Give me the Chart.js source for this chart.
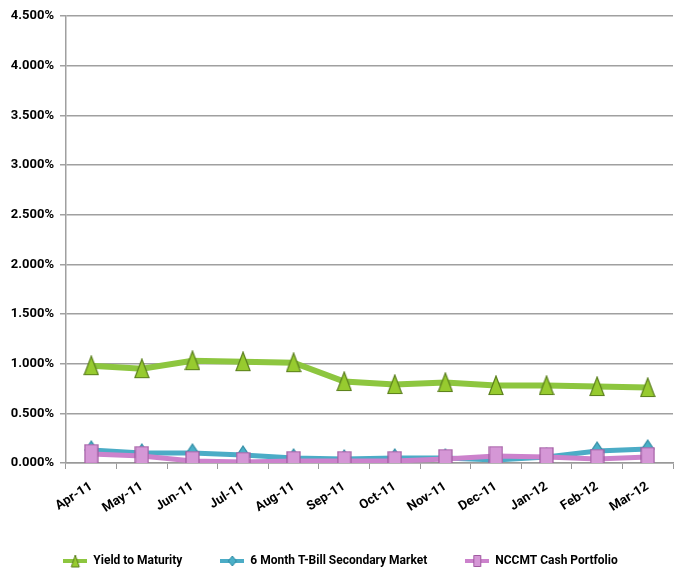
<!DOCTYPE html>
<html>
<head>
<meta charset="utf-8">
<script src="https://cdn.jsdelivr.net/npm/chart.js@4/dist/chart.umd.min.js"></script>
<style>
html,body{margin:0;padding:0;background:#fff;}
#wrap{width:683px;height:571px;}
</style>
</head>
<body>
<div id="wrap"><canvas id="c" width="683" height="571"></canvas></div>
<script>
const categories = ["Apr-11","May-11","Jun-11","Jul-11","Aug-11","Sep-11","Oct-11","Nov-11","Dec-11","Jan-12","Feb-12","Mar-12"];
const yieldToMaturity = [0.98,0.95,1.03,1.02,1.01,0.82,0.79,0.81,0.78,0.78,0.77,0.76];
const tBill6Month = [0.13,0.10,0.10,0.08,0.05,0.04,0.05,0.05,0.03,0.06,0.12,0.14];
const nccmtCash = [0.09,0.07,0.02,0.01,0.02,0.02,0.02,0.04,0.07,0.06,0.04,0.06];
const seriesNames = ["Yield to Maturity","6 Month T-Bill Secondary Market","NCCMT Cash Portfolio"];
const yTickLabels = ["0.000%","0.500%","1.000%","1.500%","2.000%","2.500%","3.000%","3.500%","4.000%","4.500%"];

const FONT = "Roboto, 'Liberation Sans', sans-serif";

function marker(kind, fill, stroke) {
  const cv = document.createElement('canvas');
  let w, h;
  if (kind === 'tri') { w = 16; h = 21; }
  else if (kind === 'diamond') { w = 14; h = 20; }
  else { w = 15; h = 21; }
  cv.width = w; cv.height = h;
  const g = cv.getContext('2d');
  g.fillStyle = fill; g.strokeStyle = stroke; g.lineWidth = 1.2;
  g.beginPath();
  if (kind === 'tri') { g.moveTo(w/2,1); g.lineTo(w-1,h-1.5); g.lineTo(1,h-1.5); g.closePath(); }
  else if (kind === 'diamond') { g.moveTo(w/2,1); g.lineTo(w-1,h/2); g.lineTo(w/2,h-1); g.lineTo(1,h/2); g.closePath(); }
  else { g.rect(1,1,w-2,h-2); }
  g.fill(); g.stroke();
  return cv;
}
function legendIcon(kind, line, fill, stroke) {
  const cv = document.createElement('canvas');
  cv.width = 24; cv.height = 14;
  const g = cv.getContext('2d');
  g.strokeStyle = line; g.lineWidth = 4;
  g.beginPath(); g.moveTo(0,7); g.lineTo(24,7); g.stroke();
  g.fillStyle = fill; g.strokeStyle = stroke; g.lineWidth = 1;
  g.beginPath();
  if (kind === 'tri') { g.moveTo(12,1); g.lineTo(16,13); g.lineTo(8,13); g.closePath(); }
  else if (kind === 'diamond') { g.moveTo(12,2); g.lineTo(16,7); g.lineTo(12,12); g.lineTo(8,7); g.closePath(); }
  else { g.rect(8.5,1.5,7,11); }
  g.fill(); g.stroke();
  return cv;
}

const greenLine = '#8DC63F', greenFill = '#97CB2F', greenStroke = '#5A7F1C';
const tealLine = '#4BACC6', tealFill = '#4BB0C8', tealStroke = '#2E8AA3';
const pinkLine = '#CC82CC', pinkFill = '#D597D6', pinkStroke = '#A05AA0';

const icons = [
  legendIcon('tri', greenLine, greenFill, greenStroke),
  legendIcon('diamond', tealLine, tealFill, tealStroke),
  legendIcon('rect', pinkLine, pinkFill, pinkStroke)
];

new Chart(document.getElementById('c'), {
  type: 'line',
  data: {
    labels: categories,
    datasets: [
      { label: seriesNames[0], data: yieldToMaturity, borderColor: greenLine, borderWidth: 6,
        pointStyle: marker('tri', greenFill, greenStroke), order: 2, tension: 0 },
      { label: seriesNames[1], data: tBill6Month, borderColor: tealLine, borderWidth: 5,
        pointStyle: marker('diamond', tealFill, tealStroke), order: 1, tension: 0 },
      { label: seriesNames[2], data: nccmtCash, borderColor: pinkLine, borderWidth: 5,
        pointStyle: marker('rect', pinkFill, pinkStroke), order: 0, tension: 0 }
    ]
  },
  options: {
    responsive: false,
    animation: false,
    devicePixelRatio: 1,
    layout: { padding: { top: 16, right: 2, left: 0, bottom: 0 } },
    plugins: {
      tooltip: { enabled: false },
      legend: {
        position: 'bottom',
        maxHeight: 54,
        labels: {
          font: { family: FONT, size: 12, weight: 'bold' },
          color: '#000',
          usePointStyle: true,
          pointStyleWidth: 24,
          boxHeight: 12,
          padding: 38,
          sort: (a, b) => a.datasetIndex - b.datasetIndex,
          generateLabels: (chart) => chart.data.datasets.map((d, i) => ({
            text: d.label, pointStyle: icons[i], datasetIndex: i, hidden: false,
            fillStyle: d.borderColor, strokeStyle: d.borderColor, lineWidth: 0, fontColor: '#000'
          }))
        }
      }
    },
    scales: {
      x: {
        offset: true,
        grid: { display: true, drawOnChartArea: false, drawTicks: true, tickLength: 6, color: '#999', offset: true },
        border: { color: '#999', width: 1.5 },
        ticks: { font: { family: FONT, size: 13, weight: 'bold' }, color: '#000', minRotation: 32, maxRotation: 32, padding: 10 },
        afterFit: (s) => { s.height = 54; }
      },
      y: {
        min: 0, max: 4.5,
        ticks: { stepSize: 0.5, font: { family: FONT, size: 13, weight: 'bold' }, color: '#000', padding: 6,
          callback: (v, i) => yTickLabels[i] },
        grid: { color: '#A0A0A0', lineWidth: 1.5, tickLength: 6 },
        border: { color: '#A0A0A0', width: 1.5 },
        afterFit: (s) => { s.width = 66; }
      }
    }
  }
});
</script>
</body>
</html>
